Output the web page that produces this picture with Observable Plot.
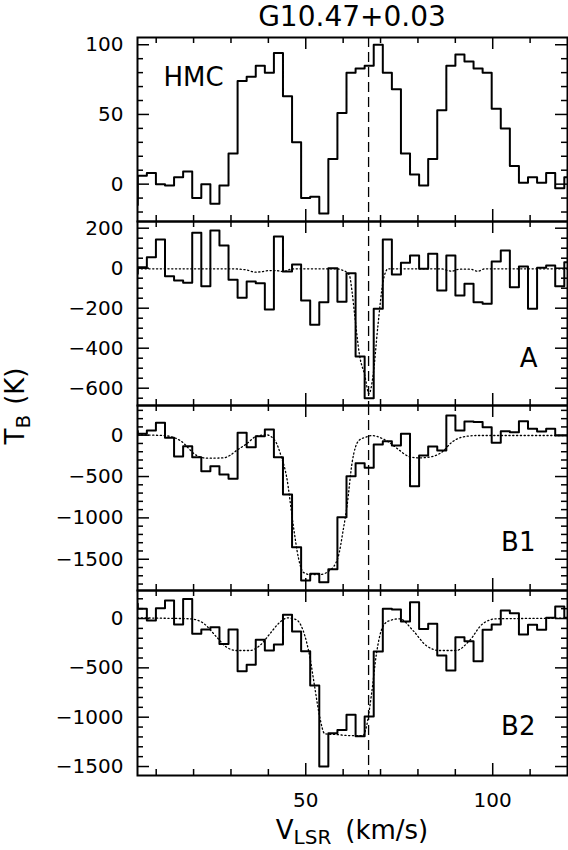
<!DOCTYPE html>
<html><head><meta charset="utf-8">
<script src="https://cdn.jsdelivr.net/npm/d3@7"></script>
<script src="https://cdn.jsdelivr.net/npm/@observablehq/plot@0.6"></script>
<style>
body{margin:0;background:#fff;}
#chart{position:relative;width:568px;height:850px;font-family:"DejaVu Sans",sans-serif;color:#000;overflow:hidden;background:#fff}
.pt{position:absolute;width:0;height:0}
.pt>div{position:absolute;left:0;top:0;white-space:nowrap;line-height:1;transform:translate(-50%,-50%)}
</style></head><body><div id="chart"></div>
<script>
// ---- data ----
const chartTitle = "G10.47+0.03";
const panelNames = ["HMC", "A", "B1", "B2"];
// channel centres (km/s)
const velocity = [3.86, 6.29, 8.71, 11.14, 13.57, 15.99, 18.42, 20.85, 23.28, 25.70, 28.13, 30.56, 32.98, 35.41, 37.84, 40.27, 42.69, 45.12, 47.55, 49.97, 52.40, 54.83, 57.25, 59.68, 62.11, 64.54, 66.96, 69.39, 71.82, 74.24, 76.67, 79.10, 81.53, 83.95, 86.38, 88.81, 91.23, 93.66, 96.09, 98.51, 100.94, 103.37, 105.80, 108.22, 110.65, 113.08, 115.50, 117.93, 120.36];
const hmc = [-15, 6, 8, 0, -1, 5, 9, -10, 0, -14, -1, 22, 74, 77, 85, 80, 94, 63, 30, -10, -9, -21, 18, 51, 80, 83, 85, 100, 80, 68, 22, 7, -1, 18, 53, 85, 93, 88, 83, 80, 54, 40, 13, 1, 5, 1, 8, -3, 5];
const regionA = [-28, 5, 55, 143, -40, -62, -73, 177, -90, 188, 113, -58, -148, -67, -75, -207, 158, -17, 18, -162, -283, -170, 0, -168, -25, -442, -650, -203, 143, -32, 27, 63, -3, 72, -112, 63, -137, -78, -170, -178, 33, 88, -95, 8, -203, 2, 13, -90, 30];
const regionB1 = [50, 16, 57, 150, -32, -258, -133, -266, -435, -375, -475, -528, 29, -145, -12, 69, -266, -717, -1354, -1757, -1676, -1777, -1620, -992, -497, -338, -395, -113, -73, -125, 17, -617, -246, -137, -185, 238, 57, 166, 158, 97, -92, 49, 37, 169, 77, 45, 77, -4, -4];
const regionB2 = [149, 98, -20, 105, 182, -61, 199, -155, -111, -88, -257, -111, -534, -469, -216, -324, -263, 37, -132, -331, -679, -1500, -1162, -1130, -976, -1192, -993, -334, 98, 91, -30, 165, -105, -54, -375, -527, -189, -230, -432, -115, -61, 81, 54, -162, -64, -115, 7, 122, 7];
// model (dotted) curves
const modelAVelocity = [5, 30, 34, 36.5, 38, 40, 42, 44, 46, 48, 58, 59.5, 60.9, 61.7, 62.4, 63.1, 64.4, 65.8, 66.9, 68.0, 69.3, 70.65, 72.0, 86, 89, 91, 94, 96, 98, 120];
const modelA = [-3, -3, -8, -20, -18, -12, -12, -17, -5, -3, -3, -8, -20, -37, -120, -237, -437, -537, -628, -537, -287, -70, -3, -3, -15, -5, -5, -15, -3, -3];
const modelB1Velocity = [5, 11.9, 16.4, 20.85, 23.5, 27.95, 29.7, 31.5, 34.2, 36.9, 39.5, 41.75, 43.5, 44.9, 46.6, 48.0, 49.3, 51.1, 53.75, 56.4, 58.65, 60.0, 61.05, 62.4, 64.2, 66.0, 67.8, 69.6, 72.2, 74.9, 77.6, 80.3, 83.8, 86.4, 89.1, 91.8, 95.7, 120];
const modelB1 = [4, -4, -64, -245, -278, -274, -245, -185, -104, -11, 4, -64, -266, -508, -1072, -1475, -1656, -1685, -1685, -1636, -1475, -1150, -850, -330, -64, -24, -4, -24, -84, -177, -258, -274, -258, -205, -84, -24, -4, -4];
const modelB2Velocity = [5, 11.9, 19.07, 22.6, 26.2, 28.8, 31.5, 35.0, 37.7, 40.4, 43.1, 45.3, 47.5, 49.3, 51.1, 52.4, 53.75, 55.1, 58.2, 61.7, 65.3, 66.2, 67.6, 68.9, 70.2, 72.0, 75.1, 78.7, 82.2, 85.8, 90.2, 93.8, 97.3, 100.9, 120];
const modelB2 = [7, 3, -3, -47, -189, -290, -324, -324, -274, -155, -37, 7, -13, -122, -392, -696, -1000, -1169, -1176, -1186, -1186, -1101, -763, -358, -122, -27, -3, -122, -274, -324, -324, -223, -54, -3, 3];
const systemicVelocity = 66.8;
// tick values
const xMinorTicks = [10, 20, 30, 40, 60, 70, 80, 90, 110];
const xMajorTicks = [50, 100];
const hmcMinorTicks = [-20, -10, 10, 20, 30, 40, 60, 70, 80, 90];
const hmcMajorTicks = [0, 50, 100];
const aMinorTicks = [-650, -550, -500, -450, -350, -300, -250, -150, -100, -50, 50, 100, 150];
const aMajorTicks = [-600, -400, -200, 0, 200];
const b1MinorTicks = [-1800, -1700, -1600, -1400, -1300, -1200, -1100, -900, -800, -700, -600, -400, -300, -200, -100, 100, 200, 300];
const b1MajorTicks = [-1500, -1000, -500, 0];
const b2MinorTicks = [-1400, -1300, -1200, -1100, -900, -800, -700, -600, -400, -300, -200, -100, 100, 200];
const b2MajorTicks = [-1500, -1000, -500, 0];

// ---- drawing ----
const fmt = d => (d < 0 ? "\u2212" : "") + Math.abs(d);
const W = 568, ML = 137, MR = 1, innerW = W - ML - MR;
const root = document.getElementById("chart");

function panel(cfg) {
  const mt = 3, mb = cfg.last ? 50 : 3, h = cfg.h;
  const marks = [
    Plot.ruleX([systemicVelocity], {stroke: "black", strokeWidth: 1.3, strokeDasharray: "10,5"})
  ];
  if (cfg.modelV) {
    marks.push(Plot.line(cfg.modelV.map((v, i) => ({v, t: cfg.modelT[i]})),
      {x: "v", y: "t", curve: "monotone-x", stroke: "black", strokeWidth: 1.3, strokeDasharray: "1.2,2.6", clip: true}));
  }
  marks.push(Plot.line(velocity.map((v, i) => ({v, t: cfg.values[i]})),
    {x: "v", y: "t", curve: "step", stroke: "black", strokeWidth: 2, clip: true}));
  const tk = {stroke: "black", strokeWidth: 1.5};
  marks.push(
    Plot.ruleX(xMinorTicks, {...tk, insetTop: h - 6}),
    Plot.ruleX(xMinorTicks, {...tk, insetBottom: h - 6}),
    Plot.ruleX(xMajorTicks, {...tk, insetTop: h - 12}),
    Plot.ruleX(xMajorTicks, {...tk, insetBottom: h - 12}),
    Plot.ruleY(cfg.minor, {...tk, insetRight: innerW - 6}),
    Plot.ruleY(cfg.minor, {...tk, insetLeft: innerW - 6}),
    Plot.ruleY(cfg.major, {...tk, insetRight: innerW - 12}),
    Plot.ruleY(cfg.major, {...tk, insetLeft: innerW - 12}),
    Plot.axisY(cfg.major, {tickSize: 0, tickPadding: 14, fontSize: 20, tickFormat: fmt, label: null})
  );
  if (cfg.last) marks.push(Plot.axisX(xMajorTicks, {tickSize: 0, tickPadding: 17, fontSize: 20, tickFormat: fmt, label: null}));
  marks.push(Plot.text([cfg.name], {fontSize: 26, lineAnchor: "top", ...cfg.labelOpts}));
  marks.push(Plot.frame({stroke: "black", strokeWidth: 2}));
  const svg = Plot.plot({
    width: W, height: h + mt + mb,
    marginLeft: ML, marginRight: MR, marginTop: mt, marginBottom: mb,
    x: {domain: [5, 120], label: null, ...(cfg.last ? {} : {axis: null})},
    y: {domain: cfg.yDomain, label: null},
    style: {fontFamily: "DejaVu Sans", background: "transparent", position: "absolute", left: "0px", top: (cfg.top - mt) + "px", overflow: "visible", color: "black"},
    marks
  });
  root.appendChild(svg);
}

panel({name: panelNames[0], values: hmc, yDomain: [-26.8, 105.2], minor: hmcMinorTicks, major: hmcMajorTicks, top: 37, h: 184,
  labelOpts: {frameAnchor: "top-left", textAnchor: "start", dx: 26, dy: 30}});
panel({name: panelNames[1], values: regionA, modelV: modelAVelocity, modelT: modelA, yDomain: [-686.5, 233.5], minor: aMinorTicks, major: aMajorTicks, top: 221, h: 184,
  labelOpts: {frameAnchor: "top-right", textAnchor: "end", dx: -30, dy: 127}});
panel({name: panelNames[2], values: regionB1, modelV: modelB1Velocity, modelT: modelB1, yDomain: [-1878, 359], minor: b1MinorTicks, major: b1MajorTicks, top: 405, h: 185,
  labelOpts: {frameAnchor: "top-right", textAnchor: "end", dx: -32, dy: 127}});
panel({name: panelNames[3], values: regionB2, modelV: modelB2Velocity, modelT: modelB2, yDomain: [-1591, 284], minor: b2MinorTicks, major: b2MajorTicks, top: 590, h: 185, last: true,
  labelOpts: {frameAnchor: "top-right", textAnchor: "end", dx: -32, dy: 126}});

// titles (HTML, outside the plots)
function addText(x, y, html, style, rotate) {
  const p = document.createElement("div");
  p.className = "pt"; p.style.left = x + "px"; p.style.top = y + "px";
  const d = document.createElement("div");
  d.innerHTML = html; d.setAttribute("style", style);
  if (rotate) d.style.transform = "translate(-50%,-50%) rotate(-90deg)";
  p.appendChild(d); root.appendChild(p);
}
addText(352, 16.5, chartTitle, "font-size:28px;");
addText(352, 830, 'V<span style="font-size:20px;position:relative;top:5px">LSR</span><span style="display:inline-block;width:14px"></span>(km/s)', "font-size:26px;");
addText(15, 406, 'T<span style="font-size:20px;position:relative;top:6px">B</span><span style="display:inline-block;width:10px"></span>(K)', "font-size:26px;", true);
</script></body></html>
